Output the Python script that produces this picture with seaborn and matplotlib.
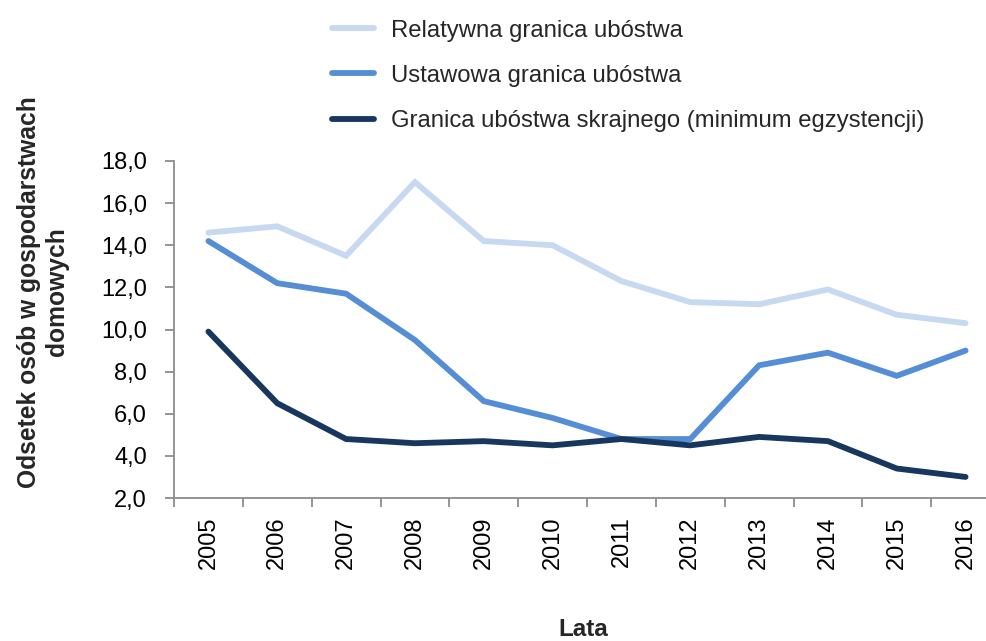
import matplotlib
matplotlib.use("Agg")
import matplotlib.pyplot as plt
import seaborn as sns
import pandas as pd
from matplotlib.ticker import FixedLocator, FuncFormatter

years = [2005, 2006, 2007, 2008, 2009, 2010, 2011, 2012, 2013, 2014, 2015, 2016]
relatywna = [14.6, 14.9, 13.5, 17.0, 14.2, 14.0, 12.3, 11.3, 11.2, 11.9, 10.7, 10.3]
ustawowa = [14.2, 12.2, 11.7, 9.5, 6.6, 5.8, 4.8, 4.8, 8.3, 8.9, 7.8, 9.0]
skrajne = [9.9, 6.5, 4.8, 4.6, 4.7, 4.5, 4.8, 4.5, 4.9, 4.7, 3.4, 3.0]
series_names = ["Relatywna granica ubóstwa", "Ustawowa granica ubóstwa",
                "Granica ubóstwa skrajnego (minimum egzystencji)"]
colors = ["#c6d9f1", "#558ed5", "#17375e"]
y_ticks = [2, 4, 6, 8, 10, 12, 14, 16, 18]
y_label = "Odsetek osób w gospodarstwach\ndomowych"
x_label = "Lata"

sns.set_theme(style="white")
font = ["Liberation Sans", "DejaVu Sans"]
plt.rcParams["font.family"] = font

df = pd.concat([
    pd.DataFrame({"Rok": years, "Wartość": vals, "Seria": name})
    for name, vals in zip(series_names, [relatywna, ustawowa, skrajne])
])

fig = plt.figure(figsize=(9.87, 6.41), dpi=100)
ax = fig.add_axes([174 / 987, 1 - 498 / 641, (1000 - 174) / 987, (498 - 161) / 641])

sns.lineplot(data=df, x="Rok", y="Wartość", hue="Seria", palette=colors,
             hue_order=series_names, linewidth=4.2, ax=ax, legend=True,
             solid_capstyle="round", solid_joinstyle="miter")

ax.set_xlim(years[0] - 0.5, years[-1] + 0.5)
ax.set_ylim(2, 18)
ax.set_yticks(y_ticks)
ax.yaxis.set_major_formatter(FuncFormatter(lambda v, p: f"{v:.1f}".replace(".", ",")))
ax.set_xticks(years)
ax.set_xticklabels([str(y) for y in years], rotation=90)
ax.xaxis.set_minor_locator(FixedLocator([y - 0.5 for y in years] + [years[-1] + 0.5]))

ax.tick_params(axis="x", which="major", length=0, pad=13, labelsize=17, labelcolor="black")
ax.tick_params(axis="x", which="minor", length=6.5, width=1.3, color="#8c8c8c", direction="out", bottom=True)
ax.tick_params(axis="y", which="major", length=6.5, width=1.3, color="#8c8c8c", direction="out",
               left=True, pad=13, labelsize=17, labelcolor="black")

for s in ["top", "right"]:
    ax.spines[s].set_visible(False)
for s in ["left", "bottom"]:
    ax.spines[s].set_color("#8c8c8c")
    ax.spines[s].set_linewidth(1.3)

ax.set_xlabel("")
ax.set_ylabel("")
fig.text(43 / 987, 1 - 292 / 641, y_label, rotation=90, ha="center", va="center",
         fontsize=17.7, fontweight="bold", linespacing=1.2)
fig.text(583 / 987, 1 - 630 / 641, x_label, ha="center", va="center",
         fontsize=17.5, fontweight="bold")

handles, labels = ax.get_legend_handles_labels()
ax.get_legend().remove()
for h in handles:
    h.set_linewidth(4.2)
fig.legend(handles, labels, loc="upper left", bbox_to_anchor=(322 / 987, 1 - 10 / 641),
           frameon=False, fontsize=17.2, handlelength=1.78, handletextpad=0.72,
           labelspacing=0.97, borderaxespad=0)

fig.savefig("out.png", dpi=100)
